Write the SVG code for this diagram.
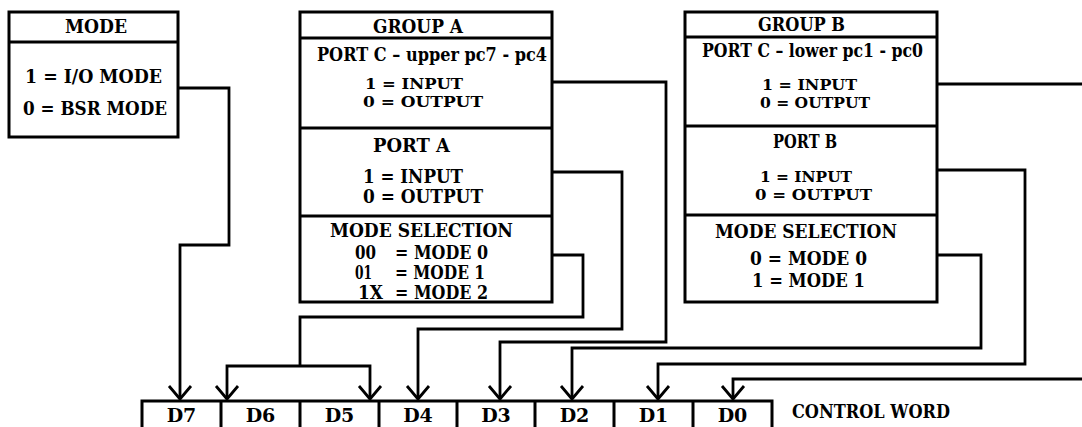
<svg xmlns="http://www.w3.org/2000/svg" width="1082" height="427" viewBox="0 0 1082 427">
<style>
.bx{fill:#fff;stroke:#000;stroke-width:3}
.dv{stroke:#000;stroke-width:3}
.t{font-family:"DejaVu Serif","Liberation Serif",serif;font-weight:bold;font-size:18px;fill:#000}
.h{font-size:19px}
.s{font-size:15px}
.c{fill:none;stroke:#000;stroke-width:2.8;stroke-linejoin:miter;marker-end:url(#ah)}
.cn{fill:none;stroke:#000;stroke-width:2.8;stroke-linejoin:miter}
.cw{fill:none;stroke:#000;stroke-width:3}
</style>
<defs>
<marker id="ah" markerUnits="userSpaceOnUse" orient="auto" overflow="visible" refX="0" refY="0" markerWidth="30" markerHeight="30">
<path d="M-13,-11 L0,0 L-13,11" fill="none" stroke="#000" stroke-width="2.8"/>
</marker>
</defs>
<rect width="1082" height="427" fill="#fff"/>

<g id="mode">
<rect class="bx" x="9" y="12" width="169" height="125"/>
<line class="dv" x1="9" y1="42" x2="178" y2="42"/>
<text class="t h" x="65" y="33" textLength="62" lengthAdjust="spacingAndGlyphs">MODE</text>
<text class="t" x="25" y="83" textLength="137" lengthAdjust="spacingAndGlyphs">1 = I/O MODE</text>
<text class="t" x="23" y="115" textLength="144" lengthAdjust="spacingAndGlyphs">0 = BSR MODE</text>
</g>

<g id="groupA">
<rect class="bx" x="300" y="12" width="252" height="290"/>
<line class="dv" x1="300" y1="38" x2="552" y2="38"/>
<line class="dv" x1="300" y1="128" x2="552" y2="128"/>
<line class="dv" x1="300" y1="216" x2="552" y2="216"/>
<text class="t h" x="373" y="33" textLength="90" lengthAdjust="spacingAndGlyphs">GROUP A</text>
<text class="t" x="317" y="61" textLength="230" lengthAdjust="spacingAndGlyphs">PORT C – upper pc7 - pc4</text>
<text class="t s" x="365" y="89" textLength="98" lengthAdjust="spacingAndGlyphs">1 = INPUT</text>
<text class="t s" x="363" y="107" textLength="120" lengthAdjust="spacingAndGlyphs">0 = OUTPUT</text>
<text class="t" x="373" y="152" textLength="77" lengthAdjust="spacingAndGlyphs">PORT A</text>
<text class="t" x="363" y="183" textLength="100" lengthAdjust="spacingAndGlyphs">1 = INPUT</text>
<text class="t" x="363" y="203" textLength="120" lengthAdjust="spacingAndGlyphs">0 = OUTPUT</text>
<text class="t" x="330" y="237" textLength="183" lengthAdjust="spacingAndGlyphs">MODE SELECTION</text>
<text class="t" x="355" y="259" textLength="21" lengthAdjust="spacingAndGlyphs">00</text>
<text class="t" x="395" y="259" textLength="93" lengthAdjust="spacingAndGlyphs">= MODE 0</text>
<text class="t" x="355" y="279" textLength="17" lengthAdjust="spacingAndGlyphs">01</text>
<text class="t" x="395" y="279" textLength="90" lengthAdjust="spacingAndGlyphs">= MODE 1</text>
<text class="t" x="358" y="299" textLength="25" lengthAdjust="spacingAndGlyphs">1X</text>
<text class="t" x="395" y="299" textLength="93" lengthAdjust="spacingAndGlyphs">= MODE 2</text>
</g>

<g id="groupB">
<rect class="bx" x="685" y="12" width="252" height="290"/>
<line class="dv" x1="685" y1="37" x2="937" y2="37"/>
<line class="dv" x1="685" y1="126" x2="937" y2="126"/>
<line class="dv" x1="685" y1="215" x2="937" y2="215"/>
<text class="t h" x="758" y="31" textLength="87" lengthAdjust="spacingAndGlyphs">GROUP B</text>
<text class="t" x="702" y="57" textLength="221" lengthAdjust="spacingAndGlyphs">PORT C – lower pc1 - pc0</text>
<text class="t s" x="762" y="90" textLength="95" lengthAdjust="spacingAndGlyphs">1 = INPUT</text>
<text class="t s" x="760" y="108" textLength="110" lengthAdjust="spacingAndGlyphs">0 = OUTPUT</text>
<text class="t" x="773" y="148" textLength="64" lengthAdjust="spacingAndGlyphs">PORT B</text>
<text class="t s" x="760" y="182" textLength="92" lengthAdjust="spacingAndGlyphs">1 = INPUT</text>
<text class="t s" x="755" y="200" textLength="117" lengthAdjust="spacingAndGlyphs">0 = OUTPUT</text>
<text class="t" x="715" y="238" textLength="182" lengthAdjust="spacingAndGlyphs">MODE SELECTION</text>
<text class="t" x="750" y="265" textLength="117" lengthAdjust="spacingAndGlyphs">0 = MODE 0</text>
<text class="t" x="752" y="287" textLength="113" lengthAdjust="spacingAndGlyphs">1 = MODE 1</text>
</g>

<g id="controlWord">
<path class="cw" d="M142,401 H772 M142,399.5 V427 M221,401 V427 M300,401 V427 M379,401 V427 M457,401 V427 M535,401 V427 M614,401 V427 M693,401 V427 M772,399.5 V427"/>
<text class="t h" x="181.5" y="422" text-anchor="middle">D7</text>
<text class="t h" x="260.5" y="422" text-anchor="middle">D6</text>
<text class="t h" x="339.5" y="422" text-anchor="middle">D5</text>
<text class="t h" x="418" y="422" text-anchor="middle">D4</text>
<text class="t h" x="496" y="422" text-anchor="middle">D3</text>
<text class="t h" x="574.5" y="422" text-anchor="middle">D2</text>
<text class="t h" x="653.5" y="422" text-anchor="middle">D1</text>
<text class="t h" x="732.5" y="422" text-anchor="middle">D0</text>
<text class="t h" x="792" y="418" textLength="158" lengthAdjust="spacingAndGlyphs">CONTROL WORD</text>
</g>

<g id="connectors">
<path class="c" d="M178,88 H229 V245 H180 V399"/>
<path class="c" d="M552,82 H666 V342 H500 V399"/>
<path class="c" d="M552,172 H622 V329 H418 V399"/>
<path class="cn" d="M552,255 H583 V317 H300 V366"/>
<path class="c" d="M300,366 H227 V399"/>
<path class="c" d="M300,366 H370 V399"/>
<path class="c" d="M937,84 H1090 V379 H733 V399"/>
<path class="c" d="M937,170 H1025 V364 H658 V399"/>
<path class="c" d="M937,255 H981 V348 H572 V399"/>
</g>
</svg>
